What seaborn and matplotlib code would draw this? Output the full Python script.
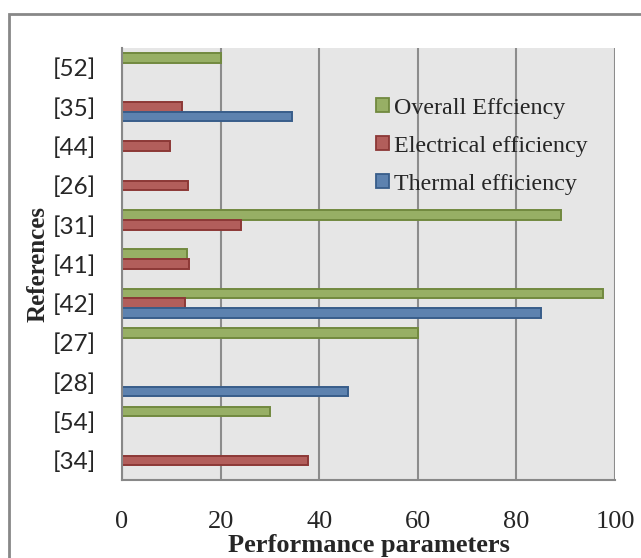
import numpy as np
import pandas as pd
import matplotlib.pyplot as plt
import seaborn as sns
from matplotlib.patches import Rectangle

# Data (top to bottom)
REFS = ["[52]", "[35]", "[44]", "[26]", "[31]", "[41]", "[42]", "[27]", "[28]", "[54]", "[34]"]
SERIES = ["Overall Effciency", "Electrical efficiency", "Thermal efficiency"]
overall = [20, np.nan, np.nan, np.nan, 89, 13.1, 97.6, 60, np.nan, 30, np.nan]
electrical = [np.nan, 12.1, 9.8, 13.4, 24.1, 13.5, 12.8, np.nan, np.nan, np.nan, 37.7]
thermal = [np.nan, 34.4, np.nan, np.nan, np.nan, np.nan, 85, np.nan, 45.8, np.nan, np.nan]
X_TICKS = [0, 20, 40, 60, 80, 100]

FACE = ["#9BBB59", "#C0504D", "#4F81BD"]
EDGE = ["#71893F", "#8C3836", "#385D8A"]

rows = []
for name, vals in zip(SERIES, [overall, electrical, thermal]):
    for ref, v in zip(REFS, vals):
        rows.append({"ref": ref, "serie": name, "valor": v})
df = pd.DataFrame(rows)

sns.set_style("white")
fig = plt.figure(figsize=(6.41, 5.58), dpi=100)
ax = fig.add_axes([122 / 641, 1 - 480 / 558, (615 - 122) / 641, (480 - 48) / 558])
ax.set_facecolor("#E6E6E6")

sns.barplot(
    data=df, y="ref", x="valor", hue="serie",
    order=REFS, hue_order=SERIES, palette=FACE,
    orient="h", width=0.74, gap=0, ax=ax, legend=True,
)
for cont, ec in zip(ax.containers, EDGE):
    for bar in cont:
        bar.set_edgecolor(ec)
        bar.set_linewidth(1.4)

ax.set_xlim(0, 100)
ax.set_ylim(len(REFS) - 0.5, -0.5)
ax.set_xticks(X_TICKS)
ax.set_xticklabels([str(t) for t in X_TICKS], fontfamily="Liberation Serif", fontsize=19)
ax.tick_params(axis="x", length=6, width=1.5, color="#888888", pad=16, direction="out")
ax.set_yticks(range(len(REFS)))
ax.set_yticklabels(REFS, fontfamily="Lato", fontsize=17.5)
ax.tick_params(axis="y", which="major", length=0, pad=19)
ax.set_yticks(np.arange(-0.5, len(REFS), 1), minor=True)
ax.tick_params(axis="y", which="minor", length=7, width=1.5, color="#888888", direction="out")

ax.grid(axis="x", color="#8C8C8C", linewidth=1.5)
ax.set_axisbelow(True)
for side in ["top", "right"]:
    ax.spines[side].set_visible(False)
for side in ["left", "bottom"]:
    ax.spines[side].set_color("#888888")
    ax.spines[side].set_linewidth(1.5)

ax.set_xlabel("Performance parameters", fontfamily="Liberation Serif", fontweight="bold",
              fontsize=19, va="top")
ax.xaxis.set_label_coords(0.5, (480 - 534) / 432)
ax.set_ylabel("References", fontfamily="Liberation Serif", fontweight="bold",
              fontsize=18, labelpad=2)

handles, labels = ax.get_legend_handles_labels()
for h, ec in zip(handles, EDGE):
    h.set_edgecolor(ec)
    h.set_linewidth(1.3)
ax.legend(handles, labels, loc="upper left", bbox_to_anchor=(366 / 641, 1 - 88 / 558),
          bbox_transform=fig.transFigure, frameon=False,
          prop={"family": "Liberation Serif", "size": 17.3},
          handlelength=0.55, handleheight=0.55, handletextpad=0.2, labelspacing=0.71,
          borderaxespad=0)

fig.add_artist(Rectangle((9 / 641, -0.1), 1.2, 0.1 + 1 - 14 / 558, transform=fig.transFigure,
                         fill=False, edgecolor="#888888", linewidth=2))

fig.savefig("out.png", dpi=100)
